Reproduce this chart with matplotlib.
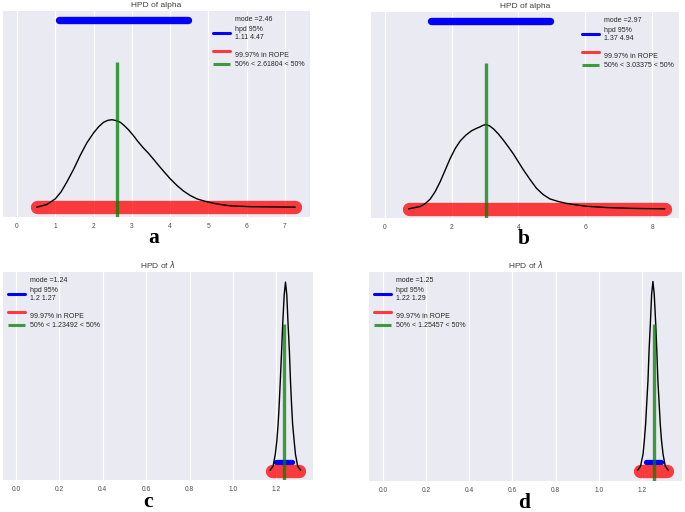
import matplotlib
matplotlib.use("Agg")
import matplotlib.pyplot as plt

plt.rcParams['font.family'] = ['Liberation Sans', 'DejaVu Sans']

# ---- panel a : alpha, run 1
a_x = [0.52, 0.78, 1.0, 1.15, 1.30, 1.48, 1.65, 1.82, 2.0, 2.13, 2.26, 2.37, 2.48, 2.59,
       2.70, 2.80, 2.91, 3.04, 3.17, 3.30, 3.43, 3.56, 3.70, 3.85, 4.0, 4.17, 4.35, 4.52,
       4.70, 4.91, 5.13, 5.35, 5.57, 5.83, 6.09, 6.60, 7.26]
a_y = [0.0, 0.012, 0.038, 0.070, 0.115, 0.175, 0.238, 0.295, 0.342, 0.370, 0.391, 0.400,
       0.403, 0.399, 0.391, 0.376, 0.357, 0.330, 0.300, 0.273, 0.249, 0.222, 0.192, 0.161,
       0.131, 0.101, 0.074, 0.054, 0.038, 0.027, 0.018, 0.011, 0.006, 0.004, 0.002,
       0.001, 0.0]
a_hpd = [1.11, 4.47]
a_rope = [0.52, 7.26]
a_median = 2.61804
a_labels = ['mode =2.46', 'hpd 95%\n1.11 4.47', '\n99.97% in ROPE', '50% < 2.61804 < 50%']

# ---- panel b : alpha, run 2
b_x = [0.72, 1.06, 1.21, 1.36, 1.51, 1.66, 1.81, 1.96, 2.11, 2.26, 2.43, 2.60, 2.73, 2.85,
       2.94, 3.02, 3.13, 3.25, 3.40, 3.55, 3.70, 3.85, 4.0, 4.15, 4.35, 4.54, 4.74, 4.94,
       5.19, 5.44, 5.74, 6.03, 6.33, 6.63, 7.03, 7.43, 8.37]
b_y = [0.0, 0.011, 0.024, 0.045, 0.080, 0.126, 0.180, 0.234, 0.280, 0.315, 0.342, 0.362,
       0.372, 0.380, 0.387, 0.391, 0.385, 0.371, 0.347, 0.318, 0.287, 0.254, 0.217, 0.180,
       0.135, 0.095, 0.066, 0.046, 0.034, 0.025, 0.018, 0.012, 0.009, 0.006, 0.004,
       0.002, 0.0]
b_hpd = [1.37, 4.94]
b_rope = [0.72, 8.37]
b_median = 3.03375
b_labels = ['mode =2.97', 'hpd 95%\n1.37 4.94', '\n99.97% in ROPE', '50% < 3.03375 < 50%']

# ---- panel c : lambda, run 1
c_x = [1.172, 1.185, 1.195, 1.202, 1.208, 1.213, 1.218, 1.224, 1.229, 1.236, 1.242,
       1.248, 1.254, 1.260, 1.265, 1.270, 1.275, 1.282, 1.288, 1.298, 1.311]
c_y = [0.15, 0.75, 2.5, 4.5, 7.0, 10.0, 13.5, 18.0, 22.0, 26.5, 28.4,
       26.5, 22.0, 18.0, 13.5, 10.0, 7.0, 4.5, 2.5, 0.75, 0.15]
c_hpd = [1.2, 1.27]
c_rope = [1.18, 1.303]
c_median = 1.23492
c_labels = ['mode =1.24', 'hpd 95%\n1.2 1.27', '\n99.97% in ROPE', '50% < 1.23492 < 50%']

# ---- panel d : lambda, run 2
d_x = [1.181, 1.194, 1.205, 1.211, 1.217, 1.222, 1.228, 1.233, 1.239, 1.245, 1.251,
       1.257, 1.264, 1.269, 1.274, 1.280, 1.285, 1.291, 1.298, 1.308, 1.321]
d_y = [0.15, 0.75, 2.5, 4.5, 7.0, 10.0, 13.5, 18.0, 22.0, 26.5, 28.4,
       26.5, 22.0, 18.0, 13.5, 10.0, 7.0, 4.5, 2.5, 0.75, 0.15]
d_hpd = [1.22, 1.29]
d_rope = [1.192, 1.316]
d_median = 1.25457
d_labels = ['mode =1.25', 'hpd 95%\n1.22 1.29', '\n99.97% in ROPE', '50% < 1.25457 < 50%']

panels = [
    # x, y, hpd, rope, median, labels, title, letter, letter x, rect, xlim, ylim, xticks,
    # hpd_y, hpd_lw, green_top, legend loc, tick format
    (a_x, a_y, a_hpd, a_rope, a_median, a_labels, 'HPD of alpha', 'a', 0.49,
     [0.0044, 0.576, 0.448, 0.402], (-0.365, 7.65), (-0.046, 0.903), list(range(8)),
     0.862, 5.3, 0.669, 'upper right', '%d'),
    (b_x, b_y, b_hpd, b_rope, b_median, b_labels, 'HPD of alpha', 'b', 0.495,
     [0.5416, 0.574, 0.4496, 0.402], (-0.41, 8.80), (-0.043, 0.911), [0, 2, 4, 6, 8],
     0.869, 5.3, 0.677, 'upper right', '%d'),
    (c_x, c_y, c_hpd, c_rope, c_median, c_labels, r'HPD of $\lambda$', 'c', 0.468,
     [0.0044, 0.0625, 0.4526, 0.406], (-0.06, 1.369), (-1.35, 29.9),
     [0.0, 0.2, 0.4, 0.6, 0.8, 1.0, 1.2],
     1.4, 3.8, 22.05, 'upper left', '%.1f'),
    (d_x, d_y, d_hpd, d_rope, d_median, d_labels, r'HPD of $\lambda$', 'd', 0.495,
     [0.5387, 0.0605, 0.457, 0.408], (-0.065, 1.386), (-1.5, 29.8),
     [0.0, 0.2, 0.4, 0.6, 0.8, 1.0, 1.2],
     1.4, 3.8, 22.05, 'upper left', '%.1f'),
]

fig = plt.figure(figsize=(6.85, 5.12), dpi=100)

for (xs, ys, hpd, rope, med, labels, title, letter, letter_x, rect, xlim, ylim, xticks,
     hpd_y, hpd_lw, gtop, loc, fmt) in panels:
    ax = fig.add_axes(rect)
    ax.set_facecolor('#EAEAF2')
    for s in ax.spines.values():
        s.set_visible(False)
    ax.set_xlim(*xlim)
    ax.set_ylim(*ylim)
    ax.set_xticks(xticks)
    ax.set_xticklabels([fmt % t for t in xticks])
    ax.set_yticks([])
    ax.tick_params(axis='x', length=0, pad=4, labelsize=4.8, labelcolor='.3')
    ax.grid(axis='x', color='white', lw=0.9)
    ax.set_axisbelow(True)

    # mode entry with invisible handle
    ax.plot([], [], color='none', label=labels[0])
    ax.plot(hpd, [hpd_y, hpd_y], color='blue', lw=hpd_lw, solid_capstyle='round',
            label=labels[1])
    ax.plot(rope, [0, 0], color='red', alpha=0.75, lw=9.6, solid_capstyle='round',
            label=labels[2])
    ax.plot(xs, ys, color='black', lw=1.0)
    ax.vlines(med, ylim[0], gtop, color='green', alpha=0.75, lw=2.4, label=labels[3])

    ax.set_title(title, fontsize=6, color='.25', pad=3)
    leg = ax.legend(loc=loc, frameon=False, fontsize=5, handlelength=2.4,
                    handletextpad=0.8, borderaxespad=0.3, labelspacing=0.4,
                    labelcolor='.15')
    for h in leg.legend_handles:
        h.set_linewidth(2.2)

    ax.text(letter_x, -0.128, letter, transform=ax.transAxes, ha='center',
            va='baseline', fontsize=15.5, fontweight='bold', family='Liberation Serif')

fig.savefig('out.png', dpi=100)
